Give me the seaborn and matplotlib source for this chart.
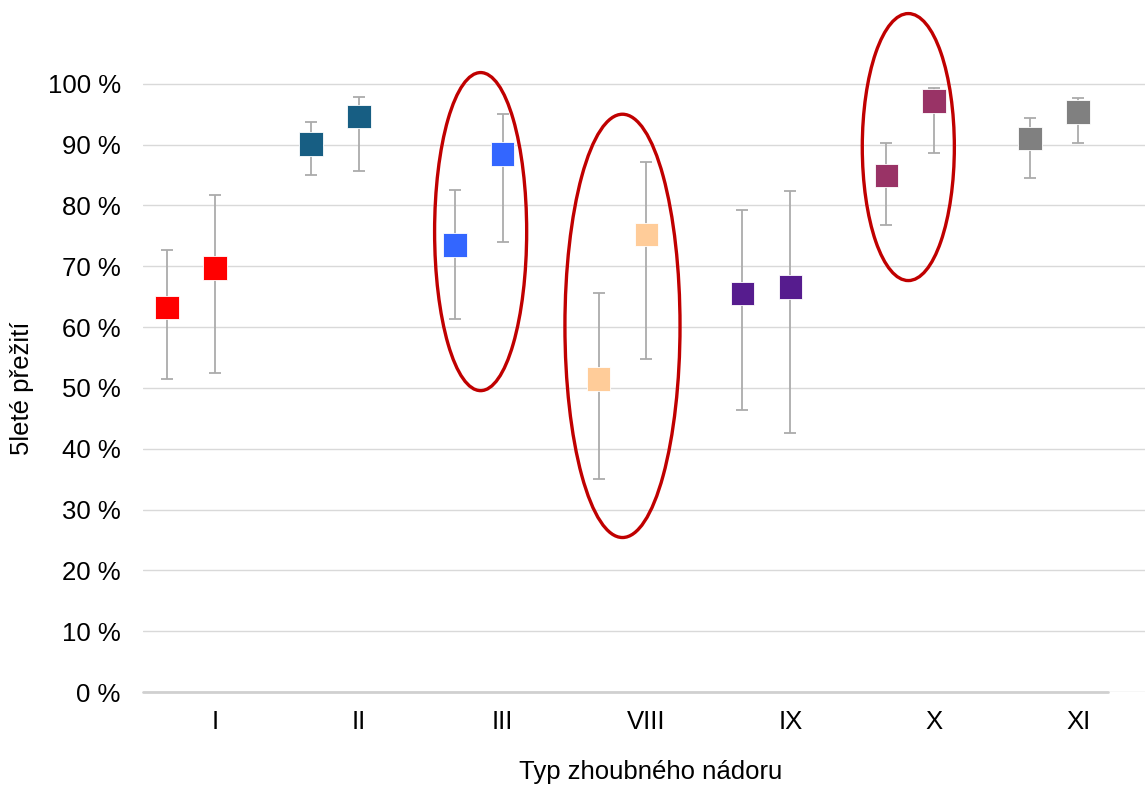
import numpy as np
import pandas as pd
import matplotlib
matplotlib.use("Agg")
import matplotlib.pyplot as plt
from matplotlib.patches import Ellipse
from matplotlib.ticker import FuncFormatter
import seaborn as sns

categories = ["I", "II", "III", "VIII", "IX", "X", "XI"]
colors = ["#FF0000", "#175E83", "#3366FF", "#FFCC99", "#561C8E", "#993366", "#808080"]

# series A (first point in each category)
val_a = [63.2, 90.1, 73.5, 51.5, 65.5, 84.9, 91.0]
low_a = [51.5, 85.0, 61.3, 35.0, 46.4, 76.8, 84.5]
high_a = [72.7, 93.8, 82.6, 65.6, 79.3, 90.3, 94.4]

# series B (second point in each category)
val_b = [69.7, 94.6, 88.5, 75.2, 66.6, 97.2, 95.4]
low_b = [52.5, 85.7, 74.0, 54.8, 42.6, 88.7, 90.3]
high_b = [81.7, 97.9, 95.1, 87.2, 82.4, 99.3, 97.7]

highlighted = ["III", "VIII", "X"]

sns.set_theme(style="white")
plt.rcParams["font.family"] = ["Liberation Sans", "DejaVu Sans"]

W, H = 1145, 786
fig = plt.figure(figsize=(W / 100, H / 100), dpi=100)
ax = fig.add_axes([143 / W, 1 - 692 / H, (1150 - 143) / W, (692 - 23) / H])

idx = np.arange(len(categories))
offsets = {"A": -0.333, "B": 0.0}
rows = []
for i, c in enumerate(categories):
    rows.append(dict(cat=c, series="A", x=i + offsets["A"], v=val_a[i], lo=low_a[i], hi=high_a[i]))
    rows.append(dict(cat=c, series="B", x=i + offsets["B"], v=val_b[i], lo=low_b[i], hi=high_b[i]))
df = pd.DataFrame(rows)

ax.set_axisbelow(True)
ax.yaxis.grid(True, color="#D9D9D9", linewidth=1.0)
ax.xaxis.grid(False)

ax.errorbar(df["x"], df["v"], yerr=[df["v"] - df["lo"], df["hi"] - df["v"]],
            fmt="none", ecolor="#ABABAB", elinewidth=1.3, capsize=4.5, capthick=1.3, zorder=2)

sns.scatterplot(data=df, x="x", y="v", hue="cat", palette=dict(zip(categories, colors)),
                marker="s", s=17 ** 2, edgecolor="white", linewidth=0.6, legend=False, ax=ax, zorder=3)

# ellipses around highlighted categories
ell_specs = {"III": (-0.153, 75.7, 0.64, 52.3), "VIII": (-0.167, 60.2, 0.80, 69.6), "X": (-0.18, 89.6, 0.64, 43.9)}
for c in highlighted:
    i = categories.index(c)
    dx, cy, w, h = ell_specs[c]
    e = Ellipse((i + dx, cy), w, h, fill=False, edgecolor="#C00000", linewidth=2.4, clip_on=False, zorder=4)
    ax.add_patch(e)

ax.set_xlim(-0.5, 6.5)
ax.set_ylim(0, 110)
ax.set_yticks(np.arange(0, 101, 10))
ax.yaxis.set_major_formatter(FuncFormatter(lambda v, p: f"{int(v)} %"))
ax.set_xticks(idx)
ax.set_xticklabels(categories)
ax.tick_params(axis="both", labelsize=18.5, colors="#000000", length=0)
ax.tick_params(axis="y", pad=16)
ax.tick_params(axis="x", pad=13)

for s in ["top", "right", "left", "bottom"]:
    ax.spines[s].set_visible(False)
ax.axhline(0, xmin=0, xmax=(1108 - 143) / 1007, color="#D0D0D0", linewidth=2.0, zorder=1, clip_on=False)

ax.set_xlabel("Typ zhoubného nádoru", fontsize=18.5, va="center", color="#000000")
ax.xaxis.set_label_coords(0.504, -0.1196)
ax.set_ylabel("5leté přežití", fontsize=18.5, va="center", color="#000000")
ax.yaxis.set_label_coords(-0.120, 0.454)

fig.savefig("out.png", dpi=100)
